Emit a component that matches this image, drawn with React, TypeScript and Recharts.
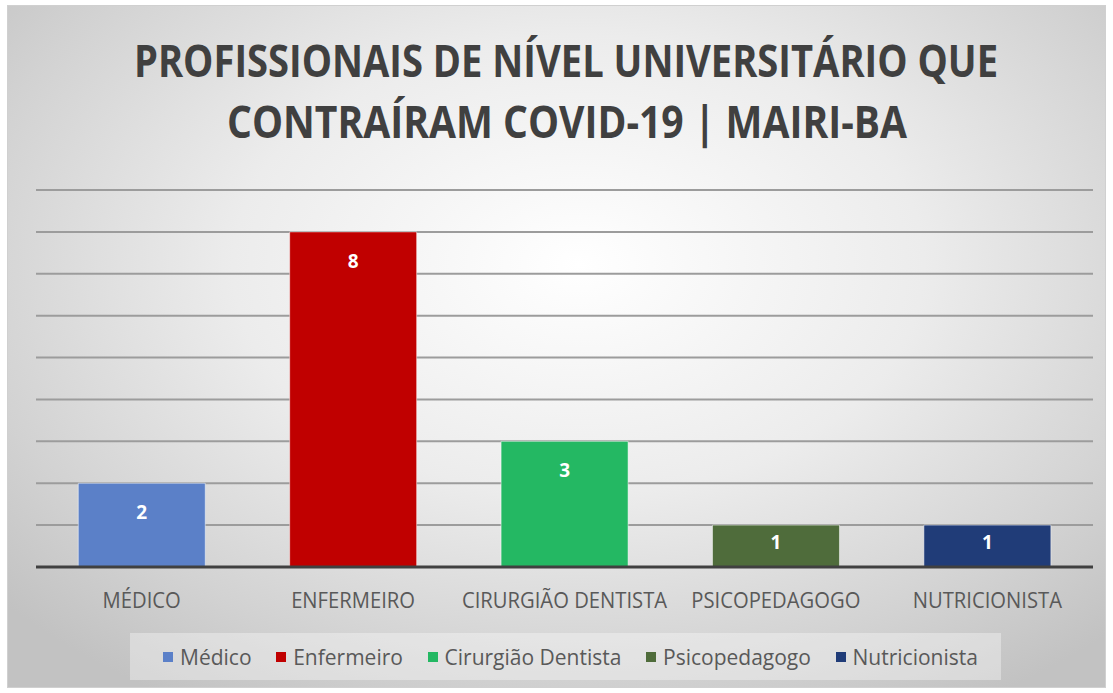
import React from 'react';
import { BarChart, Bar, XAxis, YAxis, CartesianGrid, Cell, LabelList, Legend } from 'recharts';

const categories = ['MÉDICO', 'ENFERMEIRO', 'CIRURGIÃO DENTISTA', 'PSICOPEDAGOGO', 'NUTRICIONISTA'];
const seriesNames = ['Médico', 'Enfermeiro', 'Cirurgião Dentista', 'Psicopedagogo', 'Nutricionista'];
const values = [2, 8, 3, 1, 1];
const colors = ['#5B80C8', '#C00000', '#24B863', '#4F6C3B', '#203C78'];
const yTicks = [0, 1, 2, 3, 4, 5, 6, 7, 8, 9];
const titleLines = ['PROFISSIONAIS DE NÍVEL UNIVERSITÁRIO QUE', 'CONTRAÍRAM COVID-19 | MAIRI-BA'];

const data = categories.map((c, i) => ({ category: c, name: seriesNames[i], value: values[i] }));

const W = 1099;
const H = 683;
const FONT = '"Open Sans", "Noto Sans", sans-serif';

const Tick = (props: any) => {
  const { x, y, payload } = props;
  return (
    <text x={x} y={y + 33} textAnchor="middle" fill="#595959" fontSize={22} fontFamily={FONT}
      transform={`translate(${x},0) scale(0.92,1) translate(${-x},0)`}>
      {payload.value}
    </text>
  );
};

const BarLabel = (props: any) => {
  const { x, y, width, height, value } = props;
  const dy = Math.min(29, height * 0.4);
  return (
    <text x={x + width / 2} y={y + dy} dy="0.35em" textAnchor="middle" fill="#ffffff" fontSize={19}
      fontWeight="bold" fontFamily={FONT}>
      {value}
    </text>
  );
};

const LegendContent = () => (
  <div style={{
    width: 871, height: 47, background: 'rgba(255,255,255,0.35)', display: 'flex',
    alignItems: 'center', justifyContent: 'space-between', fontFamily: FONT,
    paddingLeft: 33, paddingRight: 23, boxSizing: 'border-box', whiteSpace: 'nowrap',
  }}>
    {seriesNames.map((n, i) => (
      <div key={n} style={{ display: 'flex', alignItems: 'center' }}>
        <span style={{ width: 10, height: 10, background: colors[i], marginRight: 7, display: 'inline-block' }} />
        <span style={{ fontSize: 21, lineHeight: '26px', color: '#595959', display: 'inline-block' }}>{n}</span>
      </div>
    ))}
  </div>
);

export default function App() {
  return (
    <div style={{
      position: 'absolute', left: 7, top: 5, width: W, height: H, boxSizing: 'border-box',
      border: '1px solid #d0d0d0',
      background: 'radial-gradient(ellipse 70% 75% at 52% 38%, #ffffff 0%, #ececec 45%, #d2d2d2 80%, #c2c2c2 100%)',
    }}>
      <svg width={W} height={H} style={{ position: 'absolute', left: 0, top: 0 }}>
        <text x={558} y={71} textAnchor="middle" fill="#404040" fontSize={45} fontWeight="bold" fontFamily={FONT}
          textLength={864} lengthAdjust="spacingAndGlyphs">{titleLines[0]}</text>
        <text x={559} y={132} textAnchor="middle" fill="#404040" fontSize={45} fontWeight="bold" fontFamily={FONT}
          textLength={680} lengthAdjust="spacingAndGlyphs">{titleLines[1]}</text>
      </svg>
      <div style={{ position: 'absolute', left: 0, top: 0 }}>
        <BarChart width={W} height={H} data={data} margin={{ top: 184, right: 14, bottom: 82, left: 28 }}
          barCategoryGap="20%">
          <CartesianGrid horizontal vertical={false} stroke="#9c9c9c" strokeWidth={2} />
          <YAxis hide domain={[0, 9]} ticks={yTicks} />
          <XAxis dataKey="category" axisLine={{ stroke: '#404040', strokeWidth: 3 }} tickLine={false}
            tick={<Tick />} height={40} interval={0} />
          <Legend layout="vertical" align="center" verticalAlign="middle" content={<LegendContent />}
            wrapperStyle={{ position: 'absolute', left: 122, top: 627, width: 871 }} />
          <Bar dataKey="value" isAnimationActive={false} stroke="rgba(255,255,255,0.5)" strokeWidth={1}>
            {data.map((d, i) => <Cell key={d.category} fill={colors[i]} />)}
            <LabelList dataKey="value" content={<BarLabel />} />
          </Bar>
        </BarChart>
      </div>
    </div>
  );
}
